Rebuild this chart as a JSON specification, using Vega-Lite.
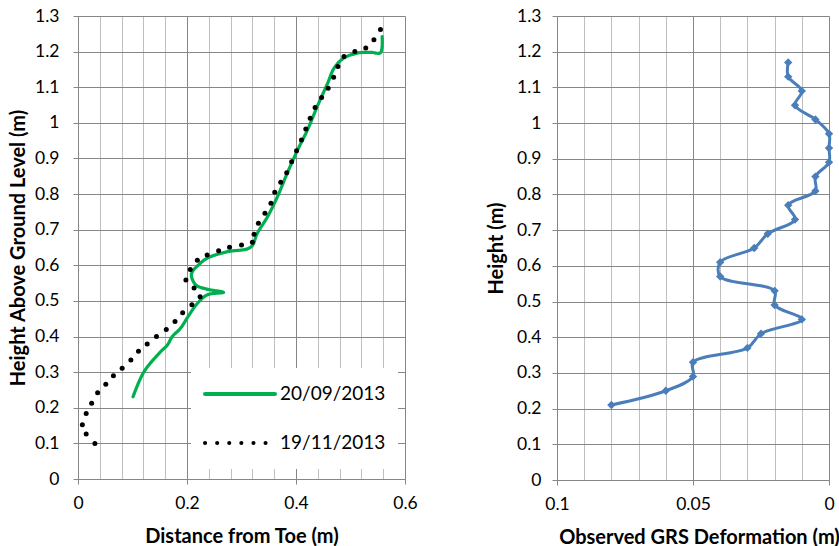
{
  "$schema": "https://vega.github.io/schema/vega-lite/v6.json",
  "padding": {"left": 8, "top": 7, "right": 0, "bottom": 0},
  "background": "white",
  "config": {
    "font": "Lato",
    "view": {"stroke": null},
    "axis": {
      "labelFont": "Lato", "labelFontSize": 17.5, "labelColor": "#000000",
      "titleFont": "Lato", "titleFontSize": 20, "titleFontWeight": "bold", "titleColor": "#000000",
      "domainColor": "#868686", "tickColor": "#868686", "tickSize": 5
    },
    "legend": {"labelFont": "Lato"}
  },
  "datasets": {
    "profiles": [
      {"series": "20/09/2013", "i": 1, "x": 0.101, "y": 0.231},
      {"series": "20/09/2013", "i": 2, "x": 0.121, "y": 0.301},
      {"series": "20/09/2013", "i": 3, "x": 0.152, "y": 0.358},
      {"series": "20/09/2013", "i": 4, "x": 0.164, "y": 0.376},
      {"series": "20/09/2013", "i": 5, "x": 0.173, "y": 0.4},
      {"series": "20/09/2013", "i": 6, "x": 0.188, "y": 0.423},
      {"series": "20/09/2013", "i": 7, "x": 0.204, "y": 0.461},
      {"series": "20/09/2013", "i": 8, "x": 0.219, "y": 0.493},
      {"series": "20/09/2013", "i": 9, "x": 0.237, "y": 0.517},
      {"series": "20/09/2013", "i": 10, "x": 0.267, "y": 0.524},
      {"series": "20/09/2013", "i": 11, "x": 0.237, "y": 0.533},
      {"series": "20/09/2013", "i": 12, "x": 0.216, "y": 0.545},
      {"series": "20/09/2013", "i": 13, "x": 0.208, "y": 0.573},
      {"series": "20/09/2013", "i": 14, "x": 0.212, "y": 0.587},
      {"series": "20/09/2013", "i": 15, "x": 0.219, "y": 0.598},
      {"series": "20/09/2013", "i": 16, "x": 0.237, "y": 0.62},
      {"series": "20/09/2013", "i": 17, "x": 0.274, "y": 0.638},
      {"series": "20/09/2013", "i": 18, "x": 0.317, "y": 0.651},
      {"series": "20/09/2013", "i": 19, "x": 0.329, "y": 0.69},
      {"series": "20/09/2013", "i": 20, "x": 0.348, "y": 0.737},
      {"series": "20/09/2013", "i": 21, "x": 0.366, "y": 0.793},
      {"series": "20/09/2013", "i": 22, "x": 0.384, "y": 0.859},
      {"series": "20/09/2013", "i": 23, "x": 0.403, "y": 0.924},
      {"series": "20/09/2013", "i": 24, "x": 0.421, "y": 0.98},
      {"series": "20/09/2013", "i": 25, "x": 0.439, "y": 1.046},
      {"series": "20/09/2013", "i": 26, "x": 0.458, "y": 1.111},
      {"series": "20/09/2013", "i": 27, "x": 0.47, "y": 1.154},
      {"series": "20/09/2013", "i": 28, "x": 0.488, "y": 1.182},
      {"series": "20/09/2013", "i": 29, "x": 0.513, "y": 1.196},
      {"series": "20/09/2013", "i": 30, "x": 0.537, "y": 1.198},
      {"series": "20/09/2013", "i": 31, "x": 0.555, "y": 1.197},
      {"series": "20/09/2013", "i": 32, "x": 0.558, "y": 1.242},
      {"series": "19/11/2013", "i": 1, "x": 0.031, "y": 0.1},
      {"series": "19/11/2013", "i": 2, "x": 0.015, "y": 0.126},
      {"series": "19/11/2013", "i": 3, "x": 0.008, "y": 0.152},
      {"series": "19/11/2013", "i": 4, "x": 0.015, "y": 0.184},
      {"series": "19/11/2013", "i": 5, "x": 0.025, "y": 0.213},
      {"series": "19/11/2013", "i": 6, "x": 0.036, "y": 0.242},
      {"series": "19/11/2013", "i": 7, "x": 0.051, "y": 0.266},
      {"series": "19/11/2013", "i": 8, "x": 0.065, "y": 0.29},
      {"series": "19/11/2013", "i": 9, "x": 0.081, "y": 0.311},
      {"series": "19/11/2013", "i": 10, "x": 0.097, "y": 0.334},
      {"series": "19/11/2013", "i": 11, "x": 0.111, "y": 0.359},
      {"series": "19/11/2013", "i": 12, "x": 0.127, "y": 0.379},
      {"series": "19/11/2013", "i": 13, "x": 0.144, "y": 0.4},
      {"series": "19/11/2013", "i": 14, "x": 0.162, "y": 0.42},
      {"series": "19/11/2013", "i": 15, "x": 0.178, "y": 0.442},
      {"series": "19/11/2013", "i": 16, "x": 0.192, "y": 0.467},
      {"series": "19/11/2013", "i": 17, "x": 0.209, "y": 0.489},
      {"series": "19/11/2013", "i": 18, "x": 0.224, "y": 0.512},
      {"series": "19/11/2013", "i": 19, "x": 0.213, "y": 0.536},
      {"series": "19/11/2013", "i": 20, "x": 0.198, "y": 0.559},
      {"series": "19/11/2013", "i": 21, "x": 0.206, "y": 0.588},
      {"series": "19/11/2013", "i": 22, "x": 0.219, "y": 0.614},
      {"series": "19/11/2013", "i": 23, "x": 0.237, "y": 0.629},
      {"series": "19/11/2013", "i": 24, "x": 0.258, "y": 0.641},
      {"series": "19/11/2013", "i": 25, "x": 0.278, "y": 0.651},
      {"series": "19/11/2013", "i": 26, "x": 0.3, "y": 0.657},
      {"series": "19/11/2013", "i": 27, "x": 0.32, "y": 0.665},
      {"series": "19/11/2013", "i": 28, "x": 0.323, "y": 0.687},
      {"series": "19/11/2013", "i": 29, "x": 0.331, "y": 0.718},
      {"series": "19/11/2013", "i": 30, "x": 0.343, "y": 0.746},
      {"series": "19/11/2013", "i": 31, "x": 0.354, "y": 0.774},
      {"series": "19/11/2013", "i": 32, "x": 0.361, "y": 0.805},
      {"series": "19/11/2013", "i": 33, "x": 0.372, "y": 0.833},
      {"series": "19/11/2013", "i": 34, "x": 0.383, "y": 0.86},
      {"series": "19/11/2013", "i": 35, "x": 0.392, "y": 0.891},
      {"series": "19/11/2013", "i": 36, "x": 0.401, "y": 0.922},
      {"series": "19/11/2013", "i": 37, "x": 0.41, "y": 0.952},
      {"series": "19/11/2013", "i": 38, "x": 0.418, "y": 0.983},
      {"series": "19/11/2013", "i": 39, "x": 0.426, "y": 1.013},
      {"series": "19/11/2013", "i": 40, "x": 0.435, "y": 1.043},
      {"series": "19/11/2013", "i": 41, "x": 0.447, "y": 1.071},
      {"series": "19/11/2013", "i": 42, "x": 0.459, "y": 1.097},
      {"series": "19/11/2013", "i": 43, "x": 0.469, "y": 1.128},
      {"series": "19/11/2013", "i": 44, "x": 0.477, "y": 1.158},
      {"series": "19/11/2013", "i": 45, "x": 0.488, "y": 1.186},
      {"series": "19/11/2013", "i": 46, "x": 0.508, "y": 1.2},
      {"series": "19/11/2013", "i": 47, "x": 0.528, "y": 1.21},
      {"series": "19/11/2013", "i": 48, "x": 0.543, "y": 1.233},
      {"series": "19/11/2013", "i": 49, "x": 0.555, "y": 1.262}
    ],
    "grs": [
      {"h": 1.17, "d": 0.015},
      {"h": 1.13, "d": 0.015},
      {"h": 1.09, "d": 0.01},
      {"h": 1.05, "d": 0.0125},
      {"h": 1.01, "d": 0.005},
      {"h": 0.97, "d": 0.0},
      {"h": 0.93, "d": 0.0},
      {"h": 0.89, "d": 0.0},
      {"h": 0.85, "d": 0.005},
      {"h": 0.81, "d": 0.005},
      {"h": 0.77, "d": 0.015},
      {"h": 0.73, "d": 0.0125},
      {"h": 0.69, "d": 0.0225},
      {"h": 0.65, "d": 0.0275},
      {"h": 0.61, "d": 0.04},
      {"h": 0.57, "d": 0.04},
      {"h": 0.53, "d": 0.02},
      {"h": 0.49, "d": 0.02},
      {"h": 0.45, "d": 0.01},
      {"h": 0.41, "d": 0.025},
      {"h": 0.37, "d": 0.03},
      {"h": 0.33, "d": 0.05},
      {"h": 0.29, "d": 0.05},
      {"h": 0.25, "d": 0.06},
      {"h": 0.21, "d": 0.08}
    ]
  },
  "resolve": {"scale": {"color": "independent", "strokeDash": "independent"}, "legend": {"color": "independent", "strokeDash": "independent"}},
  "spacing": 68,
  "hconcat": [
    {
      "width": 327,
      "height": 463,
      "data": {"name": "profiles"},
      "encoding": {
        "x": {
          "field": "x", "type": "quantitative",
          "scale": {"domain": [0, 0.6], "nice": false, "zero": false},
          "axis": {
            "title": "Distance from Toe (m)",
            "values": [0, 0.04, 0.08, 0.12, 0.16, 0.2, 0.24, 0.28, 0.32, 0.36, 0.4, 0.44, 0.48, 0.52, 0.56, 0.6],
            "labelExpr": "abs(datum.value*5 - round(datum.value*5)) < 0.001 ? format(datum.value, '.1~f') : ''",
            "grid": true,
            "gridColor": {"condition": {"test": "abs(datum.value*5 - round(datum.value*5)) < 0.001", "value": "#868686"}, "value": "#bfbfbf"},
            "tickOpacity": {"condition": {"test": "abs(datum.value*5 - round(datum.value*5)) < 0.001", "value": 1}, "value": 0},
            "labelPadding": 10,
            "titlePadding": 15,
            "labelFlush": false,
            "labelOverlap": false
          }
        },
        "y": {
          "field": "y", "type": "quantitative",
          "scale": {"domain": [0, 1.3], "nice": false},
          "axis": {
            "title": "Height Above Ground Level (m)",
            "values": [0, 0.1, 0.2, 0.3, 0.4, 0.5, 0.6, 0.7, 0.8, 0.9, 1, 1.1, 1.2, 1.3],
            "labelExpr": "format(datum.value, '.1~f')",
            "grid": true, "gridColor": "#868686",
            "labelPadding": 14,
            "titlePadding": 6,
            "labelFlush": false,
            "labelOverlap": false
          }
        }
      },
      "layer": [
        {
          "transform": [{"filter": "datum.series == '20/09/2013'"}],
          "mark": {"type": "line", "interpolate": "catmull-rom", "strokeWidth": 3.2, "strokeCap": "round"},
          "encoding": {
            "order": {"field": "i", "type": "quantitative"},
            "color": {
              "field": "series", "type": "nominal",
              "scale": {"domain": ["20/09/2013", "19/11/2013"], "range": ["#00b050", "#000000"]},
              "legend": {
                "title": null,
                "orient": "none",
                "legendX": 113,
                "legendY": 352,
                "fillColor": "white",
                "padding": 12,
                "clipHeight": 28,
                "symbolType": "stroke",
                "symbolSize": 4900,
                "symbolStrokeWidth": 4,
                "labelFontSize": 19,
                "labelColor": "#000000",
                "labelOffset": 3,
                "rowPadding": 21,
                "encoding": {"symbols": {"strokeCap": {"value": "round"}}}
              }
            },
            "strokeDash": {
              "field": "series", "type": "nominal",
              "scale": {"domain": ["20/09/2013", "19/11/2013"], "range": [[1, 0], [0.1, 12]]},
              "legend": {
                "title": null,
                "orient": "none",
                "legendX": 113,
                "legendY": 352,
                "fillColor": "white",
                "padding": 12,
                "clipHeight": 28,
                "symbolType": "stroke",
                "symbolSize": 4900,
                "symbolStrokeWidth": 4,
                "labelFontSize": 19,
                "labelColor": "#000000",
                "labelOffset": 3,
                "rowPadding": 21,
                "encoding": {"symbols": {"strokeCap": {"value": "round"}}}
              }
            }
          }
        },
        {
          "transform": [{"filter": "datum.series == '19/11/2013'"}],
          "mark": {"type": "point", "shape": "circle", "filled": true, "size": 25, "opacity": 1},
          "encoding": {
            "color": {
              "field": "series", "type": "nominal",
              "scale": {"domain": ["20/09/2013", "19/11/2013"], "range": ["#00b050", "#000000"]}
            }
          }
        }
      ]
    },
    {
      "width": 272,
      "height": 464,
      "data": {"name": "grs"},
      "encoding": {
        "x": {
          "field": "d", "type": "quantitative",
          "scale": {"domain": [0, 0.1], "nice": false, "reverse": true},
          "axis": {
            "title": "Observed GRS Deformation (m)",
            "titleX": 142,
            "values": [0, 0.01, 0.02, 0.03, 0.04, 0.05, 0.06, 0.07, 0.08, 0.09, 0.1],
            "labelExpr": "abs(datum.value*20 - round(datum.value*20)) < 0.001 ? format(datum.value, '.2~f') : ''",
            "grid": true,
            "gridColor": {"condition": {"test": "abs(datum.value*20 - round(datum.value*20)) < 0.001", "value": "#868686"}, "value": "#bfbfbf"},
            "tickOpacity": {"condition": {"test": "abs(datum.value*20 - round(datum.value*20)) < 0.001", "value": 1}, "value": 0},
            "labelPadding": 10,
            "titlePadding": 15,
            "labelFlush": false,
            "labelOverlap": false
          }
        },
        "y": {
          "field": "h", "type": "quantitative",
          "scale": {"domain": [0, 1.3], "nice": false},
          "axis": {
            "title": "Height (m)",
            "values": [0, 0.1, 0.2, 0.3, 0.4, 0.5, 0.6, 0.7, 0.8, 0.9, 1, 1.1, 1.2, 1.3],
            "labelExpr": "format(datum.value, '.1~f')",
            "grid": true, "gridColor": "#868686",
            "labelPadding": 11,
            "titlePadding": 10,
            "labelFlush": false,
            "labelOverlap": false
          }
        }
      },
      "layer": [
        {
          "mark": {"type": "line", "color": "#4a7ebb", "strokeWidth": 3, "interpolate": "catmull-rom"},
          "encoding": {"order": {"field": "h", "type": "quantitative"}}
        },
        {
          "mark": {"type": "point", "shape": "diamond", "filled": true, "color": "#4a7ebb", "size": 70, "opacity": 1},
          "encoding": {}
        }
      ]
    }
  ]
}
